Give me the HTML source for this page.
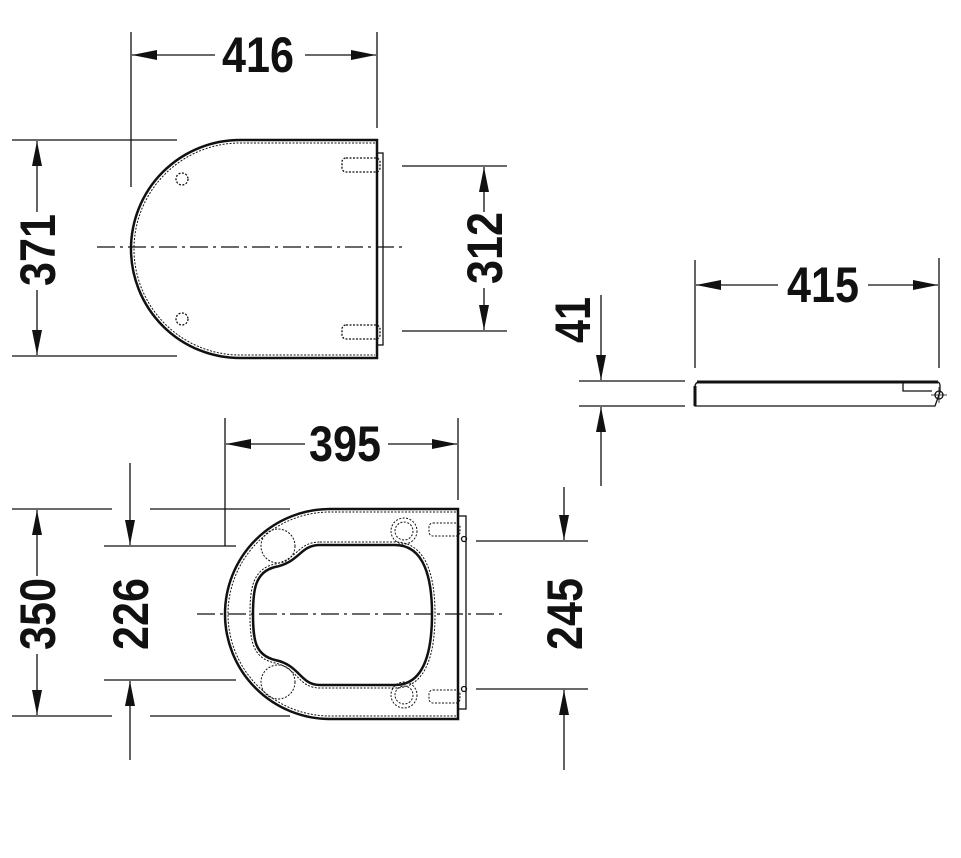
<!DOCTYPE html>
<html><head><style>body{margin:0;background:#fff}svg{display:block}</style></head><body>
<svg width="961" height="858" viewBox="0 0 961 858" xmlns="http://www.w3.org/2000/svg">
<defs>
<marker id="a" markerWidth="26" markerHeight="12" refX="25" refY="6" orient="auto" markerUnits="userSpaceOnUse"><path d="M0,1 L25,6 L0,11 Z" fill="#111"/></marker>
</defs>
<g stroke="#111" stroke-width="1.3" fill="none">
<!-- Top view -->
<line x1="131" y1="32" x2="131" y2="187"/><line x1="377" y1="32" x2="377" y2="128"/>
<line x1="215" y1="55" x2="132" y2="55" marker-end="url(#a)"/><line x1="305" y1="55" x2="376" y2="55" marker-end="url(#a)"/>
<line x1="12" y1="140" x2="177" y2="140"/><line x1="12" y1="356" x2="177" y2="356"/>
<line x1="37" y1="212" x2="37" y2="141" marker-end="url(#a)"/><line x1="37" y1="290" x2="37" y2="355" marker-end="url(#a)"/>
<line x1="402" y1="166" x2="507" y2="166"/><line x1="402" y1="331" x2="507" y2="331"/>
<line x1="484" y1="212" x2="484" y2="167" marker-end="url(#a)"/><line x1="484" y1="288" x2="484" y2="330" marker-end="url(#a)"/>
<path d="M377,140 H240 A109,109 0 0 0 240,358 H377 Z" stroke-width="2.5"/>
<path d="M375,143 H240 A106,106 0 0 0 240,355 H375" stroke-dasharray="2,1.5" stroke-width="1"/>
<rect x="377" y="153" width="6" height="192"/>
<rect x="342" y="158" width="38" height="14" rx="4" stroke-dasharray="2,1.5"/>
<rect x="342" y="325" width="38" height="14" rx="4" stroke-dasharray="2,1.5"/>
<circle cx="182" cy="179" r="6" stroke-dasharray="2,1.5"/><circle cx="182" cy="319" r="6" stroke-dasharray="2,1.5"/>
<line x1="97" y1="247" x2="405" y2="247" stroke-dasharray="18,5,3,5"/>
<!-- Side view -->
<line x1="695" y1="260" x2="695" y2="368"/><line x1="939" y1="258" x2="939" y2="368"/>
<line x1="778" y1="285" x2="696" y2="285" marker-end="url(#a)"/><line x1="868" y1="285" x2="938" y2="285" marker-end="url(#a)"/>
<line x1="579" y1="381" x2="685" y2="381"/><line x1="579" y1="406" x2="685" y2="406"/>
<line x1="601" y1="295" x2="601" y2="380" marker-end="url(#a)"/><line x1="601" y1="486" x2="601" y2="407" marker-end="url(#a)"/>
<path d="M695,406 V387 Q695,382 700,382 H937 Q940,382 940,386 V392 L935,406 Z" stroke-width="1.3"/>
<path d="M697,382 H938" stroke-width="3"/><line x1="695" y1="386" x2="695" y2="406" stroke-width="3"/>
<path d="M903,382 V391 H932"/>
<circle cx="939" cy="395" r="4"/><line x1="931" y1="395" x2="947" y2="395" stroke-width="0.8"/><line x1="939" y1="387" x2="939" y2="403" stroke-width="0.8"/>
<!-- Bottom view -->
<line x1="225" y1="418" x2="225" y2="546"/><line x1="458" y1="418" x2="458" y2="500"/>
<line x1="305" y1="444" x2="226" y2="444" marker-end="url(#a)"/><line x1="388" y1="444" x2="457" y2="444" marker-end="url(#a)"/>
<line x1="12" y1="509" x2="112" y2="509"/><line x1="12" y1="716" x2="112" y2="716"/>
<line x1="37" y1="576" x2="37" y2="510" marker-end="url(#a)"/><line x1="37" y1="654" x2="37" y2="715" marker-end="url(#a)"/>
<line x1="150" y1="509" x2="290" y2="509"/><line x1="150" y1="716" x2="290" y2="716"/>
<line x1="104" y1="546" x2="236" y2="546"/><line x1="104" y1="680" x2="236" y2="680"/>
<line x1="130" y1="463" x2="130" y2="545" marker-end="url(#a)"/><line x1="130" y1="760" x2="130" y2="681" marker-end="url(#a)"/>
<line x1="476" y1="541" x2="588" y2="541"/><line x1="476" y1="689" x2="588" y2="689"/>
<line x1="564" y1="487" x2="564" y2="540" marker-end="url(#a)"/><line x1="564" y1="770" x2="564" y2="690" marker-end="url(#a)"/>
<path d="M458,509 H330 A105,105 0 0 0 330,719 H458 Z" stroke-width="2.5"/>
<path d="M456,512 H330 A102,102 0 0 0 330,716 H456" stroke-dasharray="2,1.5" stroke-width="1"/>
<rect x="458" y="516" width="8" height="193"/>
<path d="M320,545 H395 C425,545 432,580 432,614 C432,650 425,685 395,685 H320 C300,685 300,665 275,660 C255,655 253,640 253,614 C253,590 255,572 275,567 C300,562 300,545 320,545 Z" stroke-width="2.5"/>
<path d="M320,542 H395 C428,542 435,580 435,614 C435,650 428,688 395,688 H320 C298,688 298,668 275,663 C252,658 250,640 250,614 C250,590 252,569 275,564 C298,559 298,542 320,542 Z" stroke-dasharray="2,1.5" stroke-width="1"/>
<g stroke-dasharray="2,1.5" stroke-width="1">
<circle cx="278" cy="546" r="17"/><circle cx="278" cy="682" r="17"/>
<circle cx="404" cy="531" r="13"/><circle cx="404" cy="531" r="9"/>
<circle cx="404" cy="695" r="13"/><circle cx="404" cy="695" r="9"/>
<rect x="429" y="523" width="31" height="13" rx="4"/><rect x="429" y="690" width="31" height="13" rx="4"/>
</g>
<circle cx="464" cy="539" r="2.5"/><circle cx="464" cy="689" r="2.5"/>
<line x1="197" y1="614" x2="503" y2="614" stroke-dasharray="18,5,3,5"/>
</g>
<g font-family="Liberation Sans, sans-serif" font-weight="bold" font-size="50" fill="#111" text-anchor="middle">
<text x="258" y="72" textLength="72" lengthAdjust="spacingAndGlyphs">416</text>
<text x="823" y="302" textLength="72" lengthAdjust="spacingAndGlyphs">415</text>
<text x="345" y="461" textLength="72" lengthAdjust="spacingAndGlyphs">395</text>
<text transform="translate(55,250) rotate(-90)" textLength="72" lengthAdjust="spacingAndGlyphs">371</text>
<text transform="translate(502,248) rotate(-90)" textLength="72" lengthAdjust="spacingAndGlyphs">312</text>
<text transform="translate(590,320) rotate(-90)" textLength="46" lengthAdjust="spacingAndGlyphs">41</text>
<text transform="translate(55,614) rotate(-90)" textLength="72" lengthAdjust="spacingAndGlyphs">350</text>
<text transform="translate(148,614) rotate(-90)" textLength="72" lengthAdjust="spacingAndGlyphs">226</text>
<text transform="translate(582,614) rotate(-90)" textLength="72" lengthAdjust="spacingAndGlyphs">245</text>
</g>
</svg>
</body></html>
